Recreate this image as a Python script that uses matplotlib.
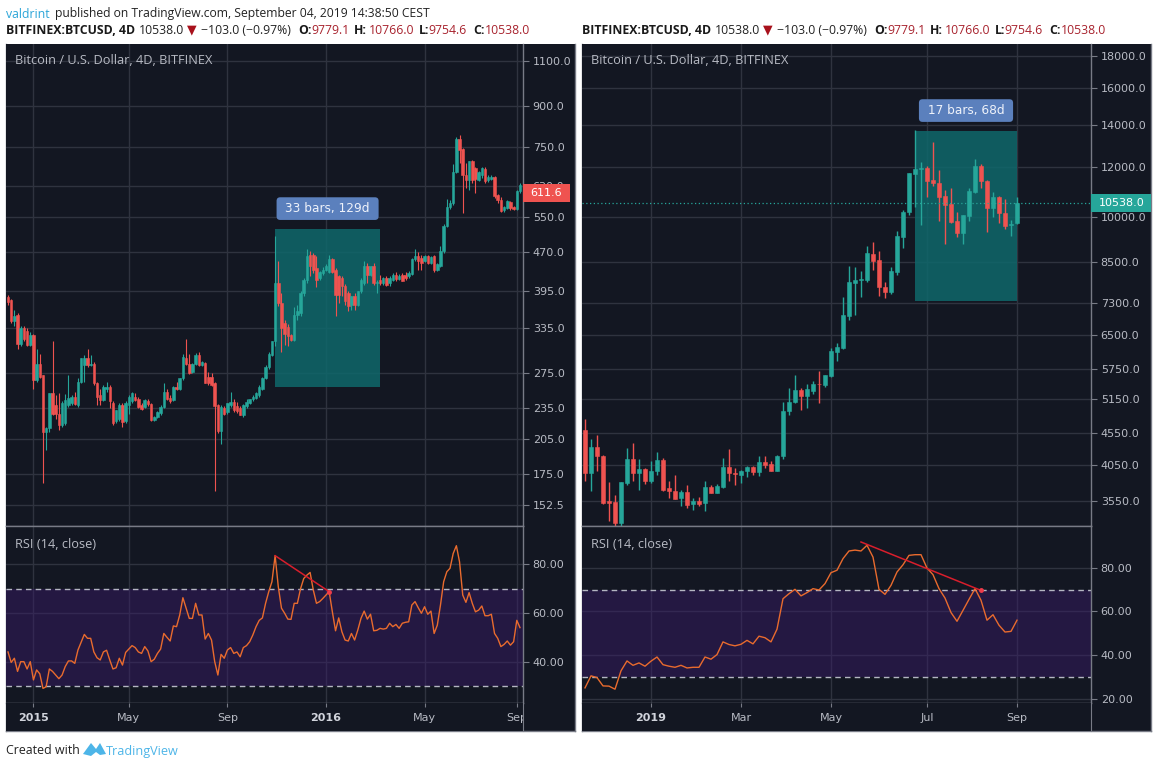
"""Two TradingView BTCUSD snapshots side by side: candles on log scale with RSI below."""
import matplotlib
matplotlib.use("Agg")
import matplotlib.pyplot as plt
import numpy as np
from matplotlib.patches import Polygon, Rectangle
from matplotlib.ticker import NullFormatter, NullLocator
from matplotlib.transforms import IdentityTransform

# ── 2015-16 candles (4D bars) ─────────────────────────────────────────────
LEFT_OPEN = [
    385, 380, 346, 356, 312, 335, 331, 311, 325, 266, 286, 272, 211, 215, 251, 238, 229, 218, 220, 238,
    240, 247, 238, 264, 284, 294, 284, 286, 262, 249, 243, 256, 258, 240, 222, 224, 238, 222, 238, 242,
    247, 245, 238, 236, 242, 239, 223, 226, 230, 236, 252, 246, 243, 258, 256, 268, 294, 286, 276, 286,
    297, 285, 287, 270, 270, 263, 238, 212, 235, 231, 238, 241, 237, 235, 228, 237, 240, 244, 246, 249,
    256, 268, 282, 297, 316, 410, 375, 343, 337, 325, 318, 355, 358, 392, 416, 465, 465, 438, 419, 428,
    435, 431, 455, 435, 422, 419, 404, 392, 372, 386, 372, 395, 410, 441, 425, 441, 410, 416, 410, 419,
    410, 416, 424, 417, 425, 425, 422, 427, 455, 463, 458, 452, 462, 448, 462, 435, 442, 472, 527, 575,
    585, 672, 776, 744, 664, 649, 704, 684, 649, 664, 680, 647, 652, 657, 606, 594, 566, 573, 587, 575,
    569, 616,
]
LEFT_HIGH = [
    388, 382, 364, 358, 339, 339, 335, 329, 326, 306, 299, 272, 216, 251, 317, 249, 251, 242, 250, 272,
    249, 252, 268, 294, 297, 306, 298, 288, 264, 256, 260, 264, 260, 242, 233, 240, 240, 242, 249, 252,
    251, 247, 240, 245, 245, 240, 227, 232, 238, 262, 256, 249, 259, 264, 269, 299, 319, 299, 287, 300,
    301, 290, 288, 276, 274, 264, 239, 238, 237, 240, 252, 245, 241, 237, 239, 244, 245, 249, 252, 260,
    270, 284, 301, 317, 505, 452, 392, 348, 342, 327, 368, 371, 395, 419, 476, 472, 468, 462, 432, 440,
    445, 465, 458, 438, 425, 422, 407, 395, 386, 392, 395, 419, 452, 447, 441, 447, 416, 425, 421, 422,
    422, 428, 431, 427, 429, 430, 432, 458, 476, 470, 465, 465, 465, 463, 465, 447, 484, 532, 595, 594,
    695, 785, 793, 747, 700, 704, 708, 688, 674, 688, 686, 662, 664, 660, 610, 600, 578, 594, 590, 578,
    620, 640,
]
LEFT_LOW = [
    371, 343, 338, 305, 309, 317, 310, 310, 256, 264, 268, 168, 195, 211, 228, 224, 213, 216, 218, 236,
    238, 238, 236, 262, 264, 282, 283, 260, 238, 238, 242, 252, 235, 218, 220, 222, 216, 220, 229, 240,
    242, 235, 233, 235, 237, 222, 222, 225, 228, 235, 243, 240, 242, 255, 254, 266, 284, 273, 274, 284,
    283, 283, 262, 260, 259, 162, 210, 200, 228, 229, 236, 231, 230, 228, 226, 235, 239, 242, 244, 247,
    255, 267, 280, 296, 310, 370, 302, 311, 309, 316, 316, 348, 353, 386, 410, 422, 428, 403, 416, 425,
    432, 428, 428, 353, 375, 386, 372, 361, 364, 364, 370, 392, 406, 410, 422, 406, 392, 406, 406, 404,
    405, 413, 414, 415, 413, 416, 419, 425, 452, 435, 435, 450, 445, 445, 431, 433, 439, 468, 525, 570,
    580, 668, 700, 560, 625, 620, 640, 612, 645, 655, 640, 642, 648, 598, 585, 563, 563, 570, 568, 566,
    566, 612,
]
LEFT_CLOSE = [
    376, 346, 353, 312, 336, 319, 311, 325, 266, 286, 270, 211, 215, 251, 229, 229, 218, 240, 243, 246,
    247, 239, 264, 294, 294, 284, 286, 262, 247, 243, 258, 258, 242, 220, 233, 238, 221, 240, 247, 251,
    243, 236, 234, 243, 239, 223, 226, 231, 236, 252, 245, 242, 258, 256, 268, 295, 286, 275, 286, 297,
    285, 288, 263, 263, 260, 237, 212, 236, 229, 240, 241, 233, 232, 228, 238, 241, 244, 247, 251, 258,
    268, 282, 299, 317, 410, 375, 335, 327, 323, 318, 355, 361, 392, 416, 462, 441, 435, 416, 431, 435,
    441, 455, 431, 389, 389, 404, 378, 370, 386, 372, 395, 416, 442, 425, 441, 410, 412, 410, 419, 406,
    419, 425, 417, 423, 414, 419, 428, 455, 462, 452, 448, 462, 448, 460, 435, 445, 472, 527, 575, 585,
    672, 776, 742, 664, 649, 704, 649, 651, 672, 684, 645, 656, 658, 603, 594, 565, 575, 590, 573, 569,
    616, 635,
]
LEFT_RSI = [
    44, 39.7, 41.4, 36, 40, 40, 37, 40, 32.5, 36.6, 35, 29, 29.7, 37, 36, 34.5, 33, 34.5, 38, 40.3,
    40.3, 39.3, 44.8, 48, 51.2, 49.6, 49.6, 44, 41.6, 40.7, 44, 44.7, 40.7, 37, 37.5, 41.4, 38.6, 43.8, 45.2, 46.6,
    45.8, 44, 43.4, 46.2, 44.4, 40, 41, 43.4, 45.2, 51.6, 50, 48.5, 54.7, 54.4, 59.2, 66.3, 62, 57.8, 57.8, 64,
    59.2, 59.2, 49.3, 51.6, 48.9, 40, 34.5, 43, 41.4, 44.8, 45.8, 43.4, 44, 42, 45.8, 46.6, 48.2, 51, 54.4, 57,
    58, 64, 68.8, 72.9, 83.6, 70.8, 62, 59.9, 57.5, 57.4, 64, 64, 70, 74.2, 75.6, 76.7, 69.5, 64, 64.7, 66,
    67.4, 68.8, 60.5, 52.7, 58, 52.3, 48.9, 48.5, 51.6, 48.9, 53, 57.8, 60.8, 57.5, 59.5, 52.7, 52.9, 53.7, 53.4, 53.7,
    55.8, 54.4, 55.3, 53.7, 55.8, 56.2, 56.4, 63.3, 64.7, 62.2, 59.9, 62.6, 59.5, 60.8, 51.6, 55, 63.3, 72.9, 77, 78.4,
    84.5, 87.7, 81, 67.4, 64.4, 68.4, 64, 60.5, 61.2, 62.9, 58.9, 58.9, 59.5, 51.6, 49.6, 46.2, 47.1, 48.5, 46.8, 48.2,
    57, 54,
]
LEFT_TREND_BARS = [84, 101]
LEFT_TREND_RSI = [83.6, 68.8]
LEFT_BOX_BARS = [84, 117]
LEFT_BOX_PRICES = [258, 521]
LEFT_PRICE_TICKS = [1100, 900, 750, 630, 550, 470, 395, 335, 275, 235, 205, 175, 152.5]
LEFT_TIME_BARS = [8, 38, 69, 100, 131, 160]
LEFT_TIME_LABELS = ["2015", "May", "Sep", "2016", "May", "Sep"]
LEFT_LAST = 611.6

# ── 2019 candles ──────────────────────────────────────────────────────────
RIGHT_OPEN = [
    4593, 3931, 4320, 4190, 3545, 3535, 3275, 3795, 4143, 3931, 3995, 3822, 3955, 4120, 3720, 3685, 3587, 3665, 3508, 3545,
    3522, 3730, 3660, 3730, 4025, 3931, 3907, 3955, 4025, 3945, 4085, 4055, 3965, 4190, 4925, 5085, 5330, 5200, 5310, 5445,
    5420, 5600, 6105, 6200, 6960, 7860, 7950, 7950, 8735, 8545, 7750, 7610, 8190, 9306, 10200, 11700, 11920, 11980, 11450, 11340,
    10800, 10470, 9855, 9440, 10050, 10940, 12060, 11420, 10320, 10770, 10135, 9710, 9779.1,
]
RIGHT_HIGH = [
    4792, 4450, 4510, 4195, 3810, 3631, 3810, 4300, 4380, 4130, 4000, 4100, 4240, 4150, 3813, 3897, 3700, 3760, 3587, 3595,
    3813, 3767, 3780, 4153, 4290, 4003, 3980, 4040, 4030, 4180, 4175, 4102, 4204, 5090, 5363, 5612, 5363, 5430, 5500, 5700,
    5620, 6205, 6321, 7470, 8370, 8320, 8200, 8990, 9115, 8830, 7890, 8340, 9500, 10260, 11730, 13740, 12240, 12060, 13170, 11880,
    11040, 11110, 10200, 10090, 11110, 12340, 12120, 11450, 10960, 10810, 10680, 9890, 10766,
]
RIGHT_LOW = [
    3822, 3676, 3965, 3510, 3305, 3234, 3234, 3767, 3822, 3700, 3775, 3790, 3897, 3680, 3587, 3570, 3480, 3458, 3433, 3480,
    3416, 3650, 3660, 3722, 3822, 3767, 3790, 3870, 3907, 3882, 4010, 3955, 3955, 4130, 4865, 5070, 4955, 4985, 5235, 5076,
    5380, 5580, 5910, 6180, 6870, 7000, 7470, 7880, 8235, 7500, 7440, 7560, 8100, 8920, 10070, 10390, 9710, 10770, 11180, 9855,
    9080, 9770, 9306, 9080, 9855, 10900, 11110, 9480, 10010, 9770, 9570, 9340, 9754.6,
]
RIGHT_CLOSE = [
    3931, 4320, 4180, 3522, 3522, 3275, 3800, 4143, 3931, 3995, 3822, 3965, 4120, 3700, 3676, 3573, 3665, 3500, 3555, 3508,
    3730, 3660, 3755, 4025, 3931, 3917, 3965, 4025, 3945, 4085, 4050, 3965, 4190, 4935, 5096, 5330, 5200, 5350, 5445, 5430,
    5612, 6125, 6230, 6990, 7880, 7960, 7990, 8780, 8525, 7750, 7610, 8210, 9340, 10200, 11730, 11920, 11950, 11420, 11310, 10770,
    10450, 9830, 9440, 10070, 11000, 12060, 11410, 10320, 10770, 10135, 9690, 9750, 10538,
]
RIGHT_RSI = [
    25.1, 30.6, 29.8, 26, 25.9, 24.5, 32.9, 37.4, 35.4, 36.5, 35, 37.3, 39.2, 35.7, 35, 34.5, 35.4, 34.2, 34.5, 34.5,
    39.2, 38.2, 40.3, 46.1, 44.9, 44.3, 45, 46.8, 45.2, 48.7, 48, 46.1, 51.9, 65.8, 68.1, 70.1, 67.1, 68.6, 70.4, 69.8,
    72.7, 77.7, 78.8, 84.1, 87.6, 88, 87.6, 90.2, 84.8, 70.1, 67.8, 71.9, 78, 81.3, 85.6, 85.9, 85.9, 79.8, 76.8, 70.4,
    66.1, 59.5, 55.5, 60.5, 65.5, 70.4, 65.1, 56, 58.5, 53.7, 50.6, 50.9, 56,
]
RIGHT_TREND_BARS = [46, 66]
RIGHT_TREND_RSI = [91.7, 69.6]
RIGHT_BOX_BARS = [55, 72]
RIGHT_BOX_PRICES = [7360, 13690]
RIGHT_PRICE_TICKS = [18000, 16000, 14000, 12000, 10000, 8500, 7300, 6500, 5750, 5150, 4550, 4050, 3550]
RIGHT_TIME_BARS = [11, 26, 41, 57, 72]
RIGHT_TIME_LABELS = ["2019", "Mar", "May", "Jul", "Sep"]
RIGHT_LAST = 10538.0

RSI_LEVELS = [30, 70]
LEFT_RSI_TICKS = [40, 60, 80]
RIGHT_RSI_TICKS = [20, 40, 60, 80]

# ── Style ─────────────────────────────────────────────────────────────────
W, H = 1158, 768
BG = "#131722"
GRID = "#2f333f"
BORDER = "#787b86"
LABEL = "#b8bbc4"
UP = "#26a69a"
DOWN = "#ef5350"
FONT = "Open Sans"
AXIS_FONT = "DejaVu Sans"
TOP, PANE_SPLIT, PANE_BOTTOM, BOTTOM = 44, 526, 703, 731

plt.rcParams["font.family"] = FONT
fig = plt.figure(figsize=(W / 100, H / 100), dpi=100, facecolor="white")


def px_rect(x0, y0, x1, y1):
    return [x0 / W, 1 - y1 / H, (x1 - x0) / W, (y1 - y0) / H]


def put(x, y, s, **kw):
    fig.text(x / W, 1 - (y + 1) / H, s, va="center", ha=kw.pop("ha", "left"), **kw)


def style_pane(ax, xlim, time_bars):
    ax.set_facecolor(BG)
    ax.set_xlim(*xlim)
    ax.set_xticks(time_bars)
    ax.tick_params(axis="x", length=0, labelbottom=False)
    ax.tick_params(axis="y", which="major", right=True, left=False, labelright=True, labelleft=False,
                   length=4, width=0.8, color=BORDER, labelcolor=LABEL, labelsize=8, pad=3)
    ax.yaxis.set_tick_params(which="minor", length=0)
    ax.grid(True, color=GRID, lw=1)
    ax.set_axisbelow(True)
    for spine in ax.spines.values():
        spine.set_color(BORDER)
        spine.set_linewidth(1)
    ax.spines["left"].set_visible(False)
    ax.spines["top"].set_visible(False)
    for lab in ax.get_yticklabels():
        lab.set_family(AXIS_FONT)
        lab.set_ha("left")


def draw_panel(x_left, x_div, x_right, x0, bar_px, o, h, lo, c, rsi, price_lim, rsi_lim, price_ticks,
               rsi_ticks, time_bars, time_labels, box_bars, box_prices, box_text, trend_bars, trend_rsi,
               last_price, tag_color, tag_w, wick_lw, body_width):
    # dark backing for the whole widget incl. scales
    back = fig.add_axes(px_rect(x_left, TOP, x_right, BOTTOM))
    back.set_facecolor(BG)
    back.set_xticks([])
    back.set_yticks([])
    for name, spine in back.spines.items():
        spine.set_visible(name != "top")
        spine.set_color(BORDER)
        spine.set_linewidth(1)

    xlim = ((x_left - x0) / bar_px, (x_div - x0) / bar_px)
    idx = np.arange(len(o))
    o, h, lo, c = map(np.asarray, (o, h, lo, c))
    colors = np.where(c >= o, UP, DOWN)

    # price pane
    ax = fig.add_axes(px_rect(x_left, TOP, x_div, PANE_SPLIT))
    ax.set_yscale("log")
    ax.set_ylim(*price_lim)
    ax.yaxis.set_minor_locator(NullLocator())
    ax.yaxis.set_minor_formatter(NullFormatter())
    ax.set_yticks(price_ticks)
    ax.set_yticklabels([f"{t:.1f}" for t in price_ticks])
    style_pane(ax, xlim, time_bars)

    ax.add_patch(Rectangle((box_bars[0], box_prices[0]), box_bars[1] - box_bars[0], box_prices[1] - box_prices[0],
                           facecolor="#0f686b", alpha=0.85, edgecolor="none", zorder=1.5))
    ax.vlines(idx, lo, h, colors=colors, lw=wick_lw, zorder=3)
    ax.bar(idx, np.abs(c - o), bottom=np.minimum(o, c), width=body_width, color=colors, edgecolor=colors, lw=0.4, zorder=4)
    ax.annotate(f"\u00a0{box_text}\u00a0", xy=(sum(box_bars) / 2, box_prices[1]), xytext=(0, 10), textcoords="offset points",
                ha="center", va="bottom", color="#eef2fa", fontsize=8.7, family=AXIS_FONT, zorder=6,
                bbox=dict(boxstyle="round,pad=0.4,rounding_size=0.3", fc="#5b80bd", ec="none"))
    put(x_left + 9, 60, "Bitcoin / U.S. Dollar, 4D, BITFINEX", color=LABEL, fontsize=9.2, zorder=10)

    # last price tag on the scale
    y_tag = ax.transData.transform((0, last_price))[1]
    if tag_color == UP:
        ax.axhline(last_price, color=UP, lw=0.9, ls=(0, (1, 2)), zorder=5)
    fig.add_artist(Rectangle((x_div, y_tag - 9), tag_w, 18, facecolor=tag_color, edgecolor="none",
                             transform=IdentityTransform(), zorder=8))
    fig.text((x_div + 7.5) / W, y_tag / H, f"{last_price:.1f}", color="white", fontsize=8, family=AXIS_FONT,
             va="center", ha="left", zorder=9)

    # RSI pane
    ax2 = fig.add_axes(px_rect(x_left, PANE_SPLIT, x_div, PANE_BOTTOM))
    ax2.set_ylim(*rsi_lim)
    ax2.set_yticks(rsi_ticks)
    ax2.set_yticklabels([f"{t:.2f}" for t in rsi_ticks])
    style_pane(ax2, xlim, time_bars)
    ax2.spines["top"].set_visible(True)
    ax2.axhspan(RSI_LEVELS[0], RSI_LEVELS[1], facecolor="#3a1b6b", alpha=0.45, zorder=1.5)
    for level in RSI_LEVELS:
        ax2.axhline(level, color="#b4b6c2", lw=1, ls=(0, (4, 3)), zorder=2)
    ax2.plot(idx, rsi, color="#e96b2e", lw=1, zorder=3)
    ax2.plot(trend_bars, trend_rsi, color="#d81e2c", lw=1.1, zorder=4)
    ax2.plot(trend_bars[1], trend_rsi[1], marker="o", ms=2.5, color="#ef3b4a", zorder=5)
    put(x_left + 9, 543, "RSI (14, close)", color=LABEL, fontsize=9.2, zorder=10)

    # time scale
    ax3 = fig.add_axes(px_rect(x_left, PANE_BOTTOM, x_div, BOTTOM))
    ax3.set_facecolor(BG)
    ax3.set_xlim(*xlim)
    ax3.set_ylim(0, 1)
    ax3.set_yticks([])
    ax3.set_xticks(time_bars)
    ax3.tick_params(axis="x", top=True, bottom=False, labelbottom=False, direction="in", length=3, color=BORDER)
    for name, spine in ax3.spines.items():
        spine.set_visible(name == "right")
        spine.set_color(BORDER)
    for bar, label in zip(time_bars, time_labels):
        is_year = label.isdigit()
        ax3.text(bar, 0.46, label, ha="center", va="center", color=LABEL if not is_year else "#d1d4dc",
                 fontsize=8, family=AXIS_FONT, fontweight="bold" if is_year else "normal", clip_on=True)


def header_row(x, y):
    put(x, y, "BITFINEX:BTCUSD, 4D", fontsize=8.8, fontweight="bold", color="#1a1a1a")
    put(x + 133, y, "10538.0", fontsize=8.8, color="#222222")
    put(x + 181, y, "▼", fontsize=9, color="#a8111c", family="DejaVu Sans")
    put(x + 195, y, "−103.0 (−0.97%)", fontsize=8.8, color="#222222")
    red = "#a8232e"
    for dx_key, key, dx_val, val in [(292, "O:", 305, "9779.1"), (348, "H:", 363, "10766.0"),
                                     (413, "L:", 422, "9754.6"), (467, "C:", 479, "10538.0")]:
        put(x + dx_key, y, key, fontsize=8.8, fontweight="bold", color="#1a1a1a")
        put(x + dx_val, y, val, fontsize=8.8, color=red)


draw_panel(6, 523, 575, 8, 3.18, LEFT_OPEN, LEFT_HIGH, LEFT_LOW, LEFT_CLOSE, LEFT_RSI, (138.9, 1187), (23, 95.8),
           LEFT_PRICE_TICKS, LEFT_RSI_TICKS, LEFT_TIME_BARS, LEFT_TIME_LABELS, LEFT_BOX_BARS, LEFT_BOX_PRICES,
           "33 bars, 129d", LEFT_TREND_BARS, LEFT_TREND_RSI, LEFT_LAST, DOWN, 47, 0.8, 0.78)
draw_panel(582, 1091, 1151, 585, 6.0, RIGHT_OPEN, RIGHT_HIGH, RIGHT_LOW, RIGHT_CLOSE, RIGHT_RSI, (3240, 18800), (18.2, 99),
           RIGHT_PRICE_TICKS, RIGHT_RSI_TICKS, RIGHT_TIME_BARS, RIGHT_TIME_LABELS, RIGHT_BOX_BARS, RIGHT_BOX_PRICES,
           "17 bars, 68d", RIGHT_TREND_BARS, RIGHT_TREND_RSI, RIGHT_LAST, UP, 60, 1.0, 0.78)

# ── Header and footer ─────────────────────────────────────────────────────
put(6, 13, "valdrint", fontsize=8.8, color="#2ba5d8")
put(55, 13, "published on TradingView.com, September 04, 2019 14:38:50 CEST", fontsize=8.7, color="#222222")
header_row(6, 29)
header_row(582, 29)

put(6, 750, "Created with", fontsize=8.9, color="#222222")
fig.add_artist(Polygon([(83, H - 754), (91, H - 743), (96, H - 749), (100, H - 743), (106, H - 754),
                        (100, H - 755), (96, H - 752), (91, H - 756)], closed=True, facecolor="#4db5e8",
                       edgecolor="none", transform=IdentityTransform()))
put(106, 750, "TradingView", fontsize=9.1, color="#4db5e8")

fig.savefig("out.png", dpi=100, facecolor="white")
